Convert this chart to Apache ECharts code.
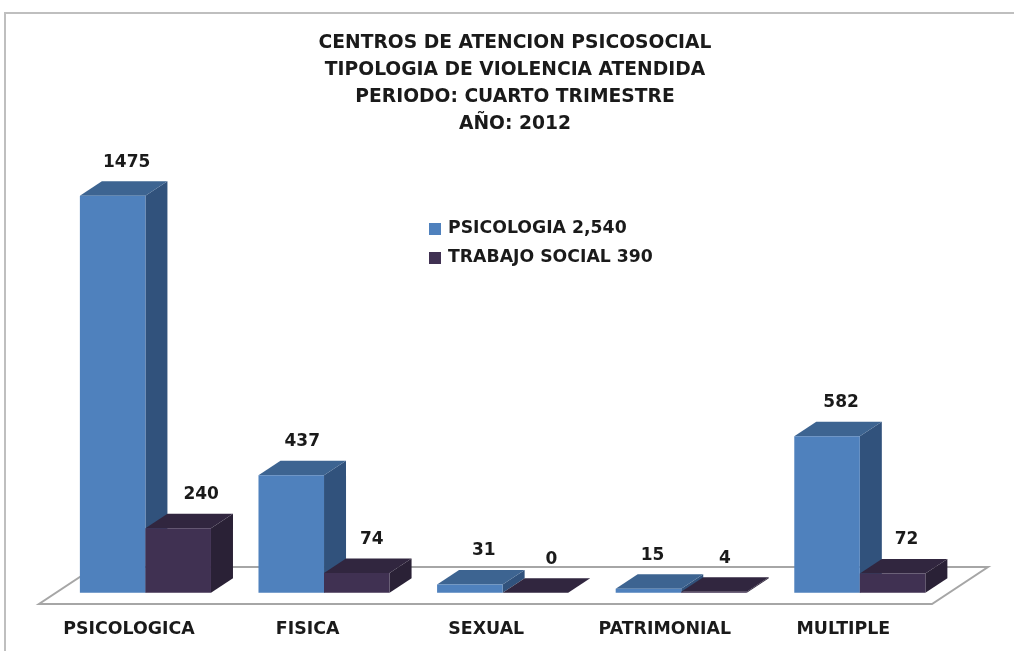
<!DOCTYPE html>
<html>
<head>
<meta charset="utf-8">
<script src="https://cdn.jsdelivr.net/npm/echarts@6/dist/echarts.min.js"></script>
<style>
html,body{margin:0;padding:0;background:#fff;}
#chart{width:1014px;height:651px;}
</style>
</head>
<body>
<div id="chart"></div>
<script>
// datos
const categories = ['PSICOLOGICA', 'FISICA', 'SEXUAL', 'PATRIMONIAL', 'MULTIPLE'];
const psicologia = [1475, 437, 31, 15, 582];
const trabajoSocial = [240, 74, 0, 4, 72];
const titleLines = ['CENTROS DE ATENCION PSICOSOCIAL', 'TIPOLOGIA DE VIOLENCIA ATENDIDA', 'PERIODO: CUARTO TRIMESTRE', 'AÑO: 2012'];
const seriesNames = ['PSICOLOGIA 2,540', 'TRABAJO SOCIAL 390'];

const font = '"DejaVu Sans", sans-serif';
const depthX = 22, depthY = 14.5;

// cada serie: caras frontal, superior y lateral de la barra
function bar3d(offset, colors, labelShift) {
  return function (params, api) {
    const band = api.size([1, 0])[0];
    const w = band * 0.367;
    const base = api.coord([api.value(0), 0]);
    const top = api.coord([api.value(0), api.value(1)]);
    const x0 = base[0] + band * offset;
    const x1 = x0 + w;
    const y0 = base[1], y1 = top[1];
    const poly = (points, fill) => ({type: 'polygon', shape: {points}, style: {fill}});
    return {
      type: 'group',
      children: [
        poly([[x1, y0], [x1 + depthX, y0 - depthY], [x1 + depthX, y1 - depthY], [x1, y1]], colors.side),
        poly([[x0, y1], [x0 + depthX, y1 - depthY], [x1 + depthX, y1 - depthY], [x1, y1]], colors.top),
        poly([[x0, y0], [x1, y0], [x1, y1], [x0, y1]], colors.front),
        {
          type: 'text',
          style: {
            x: x0 + w / 2 + 14 + labelShift[params.dataIndex],
            y: y1 - 33.5,
            text: String(api.value(1)),
            align: 'center',
            verticalAlign: 'middle',
            font: 'bold 17px ' + font,
            fill: '#1a1a1a'
          }
        }
      ]
    };
  };
}

const chart = echarts.init(document.getElementById('chart'));
chart.setOption({
  animation: false,
  backgroundColor: '#fff',
  title: {
    text: titleLines.join('\n'),
    left: 510,
    top: 24,
    textAlign: 'center',
    textStyle: {fontFamily: font, fontWeight: 'bold', fontSize: 18.7, lineHeight: 27.3, color: '#1a1a1a'}
  },
  legend: {
    orient: 'vertical',
    left: 424,
    top: 215.5,
    icon: 'rect',
    itemWidth: 12,
    itemHeight: 12,
    itemGap: 12,
    data: seriesNames,
    textStyle: {fontFamily: font, fontWeight: 'bold', fontSize: 17.3, color: '#1a1a1a', padding: [0, 0, 0, 2]}
  },
  grid: {left: 39.7, top: 189, width: 893, height: 403.8},
  xAxis: {
    type: 'category',
    data: categories,
    offset: 11,
    axisLine: {show: false},
    axisTick: {show: false},
    axisLabel: {fontFamily: font, fontWeight: 'bold', fontSize: 17.4, color: '#1a1a1a', margin: 17}
  },
  yAxis: {type: 'value', min: 0, max: 1500, show: false, splitLine: {show: false}},
  graphic: [
    {type: 'polyline', shape: {points: [[5, 651], [5, 13], [1014, 13]]}, style: {stroke: '#bfbfbf', lineWidth: 2, fill: null}},
    {type: 'polygon', shape: {points: [[39, 604], [932, 604], [988, 567], [95, 567]]}, style: {stroke: '#a6a6a6', lineWidth: 2, fill: '#fff'}}
  ],
  series: [
    {
      name: seriesNames[0],
      type: 'custom',
      z: 3,
      clip: false,
      itemStyle: {color: '#4f81bd'},
      data: psicologia.map((v, i) => [i, v]),
      encode: {x: 0, y: 1},
      renderItem: bar3d(-0.275, {front: '#4f81bd', top: '#3d6491', side: '#31527c'}, [0, -3, 0, -10, 0])
    },
    {
      name: seriesNames[1],
      type: 'custom',
      z: 4,
      clip: false,
      itemStyle: {color: '#403152'},
      data: trabajoSocial.map((v, i) => [i, v]),
      encode: {x: 0, y: 1},
      renderItem: bar3d(0.092, {front: '#403152', top: '#31263f', side: '#2a2136'}, [9, 1, 2, -3, 0])
    }
  ]
});
</script>
</body>
</html>
